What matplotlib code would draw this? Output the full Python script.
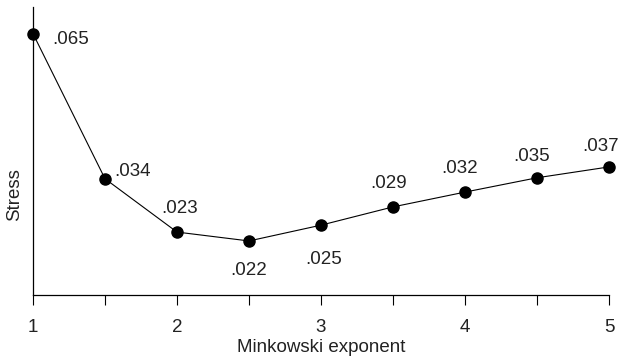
import matplotlib
matplotlib.use("Agg")
import matplotlib.pyplot as plt

# Minkowski exponent vs. stress
exponents = [1, 1.5, 2, 2.5, 3, 3.5, 4, 4.5, 5]
stress = [0.0640, 0.0346, 0.0238, 0.0220, 0.0252, 0.0289, 0.0319, 0.0348, 0.0370]
labels = [".065", ".034", ".023", ".022", ".025", ".029", ".032", ".035", ".037"]
tick_labels = ["1", "", "2", "", "3", "", "4", "", "5"]

# where each value label sits relative to its dot (points)
offsets = [(14, -4), (7, 5), (2, 17), (0, -21), (2, -25), (-3, 17), (-4, 17), (-4, 15), (-6, 15)]
aligns = ["left", "left", "center", "center", "center", "center", "center", "center", "center"]

plt.rcParams["font.family"] = ["Liberation Sans", "DejaVu Sans"]

fig = plt.figure(figsize=(6.21, 3.6), dpi=100)
ax = fig.add_axes([33 / 621, 65 / 360, 576 / 621, 288 / 360])

ax.plot(exponents, stress, color="black", linewidth=0.8, marker="o",
        markersize=8, markerfacecolor="black", clip_on=False, zorder=3)

for x, y, lab, off, ha in zip(exponents, stress, labels, offsets, aligns):
    ax.annotate(lab, (x, y), xytext=off, textcoords="offset points",
                ha=ha, va="center", fontsize=13.5, color="#222222")

ax.set_xlim(1, 5)
ax.set_ylim(0.01105, 0.0694)
ax.set_xticks(exponents)
ax.set_xticklabels(tick_labels, fontsize=13.5, color="#222222")
ax.set_yticks([])
ax.tick_params(axis="x", direction="out", length=7, width=0.8, pad=10)

for side in ["top", "right"]:
    ax.spines[side].set_visible(False)
for side in ["left", "bottom"]:
    ax.spines[side].set_linewidth(0.9)

fig.text(321 / 621, 1 - 347 / 360, "Minkowski exponent", ha="center", va="center",
         fontsize=13.5, color="#222222")
fig.text(15 / 621, 1 - 195 / 360, "Stress", ha="center", va="center",
         rotation=90, fontsize=13.5, color="#222222")

fig.savefig("out.png", dpi=100)
